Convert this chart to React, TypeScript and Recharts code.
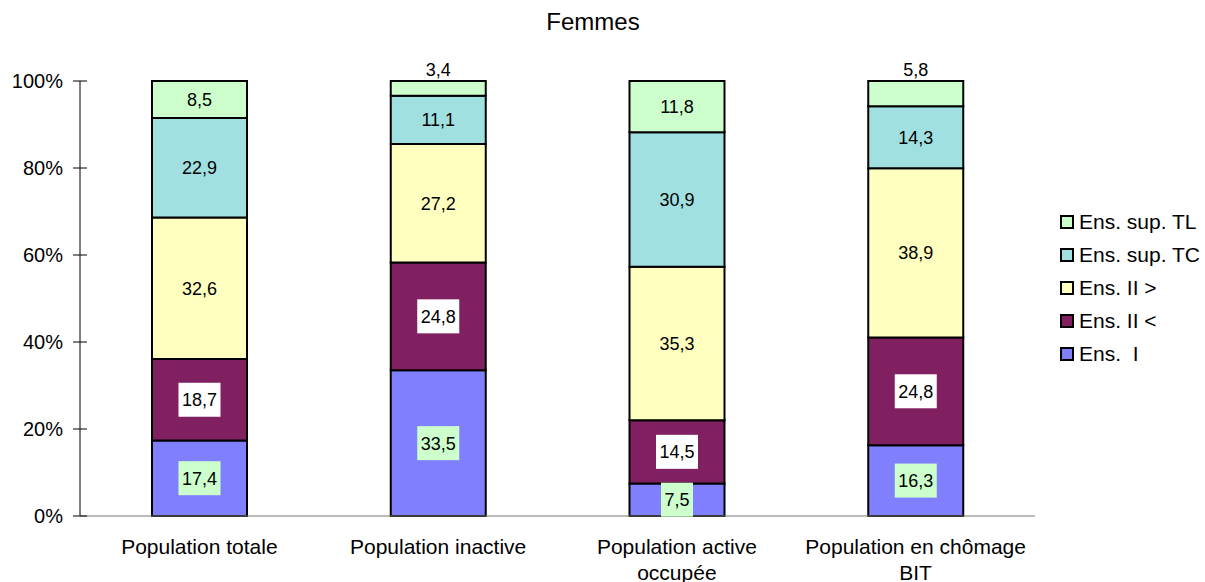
import { BarChart, Bar, XAxis, YAxis, Legend, LabelList } from 'recharts';

const categories = [
  'Population totale',
  'Population inactive',
  'Population active occupée',
  'Population en chômage BIT',
];
const ensI = [17.4, 33.5, 7.5, 16.3];
const ensIIinf = [18.7, 24.8, 14.5, 24.8];
const ensIIsup = [32.6, 27.2, 35.3, 38.9];
const ensSupTC = [22.9, 11.1, 30.9, 14.3];
const ensSupTL = [8.5, 3.4, 11.8, 5.8];
const yTicks = [0, 0.2, 0.4, 0.6, 0.8, 1];
const edgeTicks = [0, 1, 2, 3, 4];

const FONT = '"Liberation Sans", Arial, sans-serif';

interface Serie {
  key: string;
  name: string;
  values: number[];
  color: string;
  labelBg: string | null;
  above?: boolean;
}

const series: Serie[] = [
  { key: 'ensI', name: 'Ens.  I', values: ensI, color: '#8080FF', labelBg: '#CCFFCC' },
  { key: 'ensIIinf', name: 'Ens. II <', values: ensIIinf, color: '#802060', labelBg: '#FFFFFF' },
  { key: 'ensIIsup', name: 'Ens. II >', values: ensIIsup, color: '#FFFFC0', labelBg: null },
  { key: 'ensSupTC', name: 'Ens. sup. TC', values: ensSupTC, color: '#A0E0E0', labelBg: null },
  { key: 'ensSupTL', name: 'Ens. sup. TL', values: ensSupTL, color: '#CCFFCC', labelBg: null, above: true },
];

const data = categories.map((name, i) => {
  const row: any = { name, idx: i + 0.5 };
  series.forEach((s) => (row[s.key] = s.values[i]));
  return row;
});

// libellés de valeurs avec virgule décimale
const makeLabel = (bg: string | null, above?: boolean) => (props: any) => {
  const { x, y, width, height, value } = props;
  const text = String(value).replace('.', ',');
  const cx = x + width / 2;
  let cy = y + height / 2;
  if (above && value < 7) cy = y - 12;
  const digits = text.replace(',', '').length;
  const w = digits * 10 + 5 + 7;
  return (
    <g>
      {bg && <rect x={cx - w / 2} y={cy - 17} width={w} height={34} fill={bg} />}
      <text x={cx} y={cy + 6.5} textAnchor="middle" fontSize={18} fontFamily={FONT} fill="#000">
        {text}
      </text>
    </g>
  );
};

const YTick = ({ x, y, payload }: any) => (
  <g>
    <line x1={x - 7} x2={x + 7} y1={y} y2={y} stroke="#000" strokeWidth={1} />
    <text x={x - 17} y={y + 7} textAnchor="end" fontSize={20} fontFamily={FONT} fill="#000">
      {`${Math.round(payload.value * 100)}%`}
    </text>
  </g>
);

const EdgeTick = ({ x, y }: any) => (
  <line x1={x} x2={x} y1={y - 7} y2={y + 7} stroke="#555" strokeWidth={1} />
);

const wrap = (label: string, max = 22) => {
  const lines: string[] = [];
  let cur = '';
  label.split(' ').forEach((w) => {
    const next = cur ? `${cur} ${w}` : w;
    if (next.length > max && cur) {
      lines.push(cur);
      cur = w;
    } else cur = next;
  });
  if (cur) lines.push(cur);
  return lines;
};

const CatTick = ({ x, y, payload }: any) => (
  <text x={x} y={y + 38} textAnchor="middle" fontSize={21} fontFamily={FONT} fill="#000">
    {wrap(payload.value).map((l, i) => (
      <tspan key={i} x={x} dy={i === 0 ? 0 : 26}>
        {l}
      </tspan>
    ))}
  </text>
);

const LegendContent = () => (
  <div style={{ fontFamily: FONT, fontSize: 21 }}>
    {[...series].reverse().map((s) => (
      <div key={s.key} style={{ display: 'flex', alignItems: 'center', height: 33, whiteSpace: 'pre' }}>
        <span
          style={{
            display: 'inline-block',
            width: 10,
            height: 10,
            background: s.color,
            border: '2px solid #000',
            marginRight: 5,
          }}
        />
        {s.name}
      </div>
    ))}
  </div>
);

export default function App() {
  return (
    <div style={{ position: 'absolute', left: 0, top: 0, width: 1205, height: 582, background: '#fff' }}>
      <div
        style={{
          position: 'absolute',
          left: 493,
          width: 200,
          top: 8,
          textAlign: 'center',
          fontFamily: FONT,
          fontSize: 24,
        }}
      >
        Femmes
      </div>
      <BarChart
        width={1205}
        height={582}
        data={data}
        stackOffset="expand"
        margin={{ top: 81, right: 170, bottom: 0, left: 0 }}
      >
        <XAxis
          xAxisId="edge"
          type="number"
          dataKey="idx"
          domain={[0, 4]}
          ticks={edgeTicks}
          allowDataOverflow
          height={0}
          axisLine={false}
          tickLine={false}
          tickSize={0}
          tick={<EdgeTick />}
        />
        <XAxis
          xAxisId="cat"
          dataKey="name"
          height={66}
          axisLine={{ stroke: '#777' }}
          tickLine={false}
          tickSize={0}
          tickMargin={0}
          interval={0}
          tick={<CatTick />}
        />
        <YAxis
          domain={[0, 1]}
          ticks={yTicks}
          width={80}
          axisLine={{ stroke: '#000' }}
          tickLine={false}
          tickSize={0}
          tickMargin={0}
          tick={<YTick />}
        />
        <Legend
          layout="vertical"
          align="center"
          verticalAlign="middle"
          wrapperStyle={{ left: 1060, top: 205, width: 145 }}
          content={<LegendContent />}
        />
        {series.map((s) => (
          <Bar
            key={s.key}
            xAxisId="cat"
            dataKey={s.key}
            name={s.name}
            stackId="a"
            fill={s.color}
            stroke="#000"
            strokeWidth={2}
            barSize={95}
            isAnimationActive={false}
          >
            <LabelList dataKey={s.key} content={makeLabel(s.labelBg, s.above)} />
          </Bar>
        ))}
      </BarChart>
    </div>
  );
}
